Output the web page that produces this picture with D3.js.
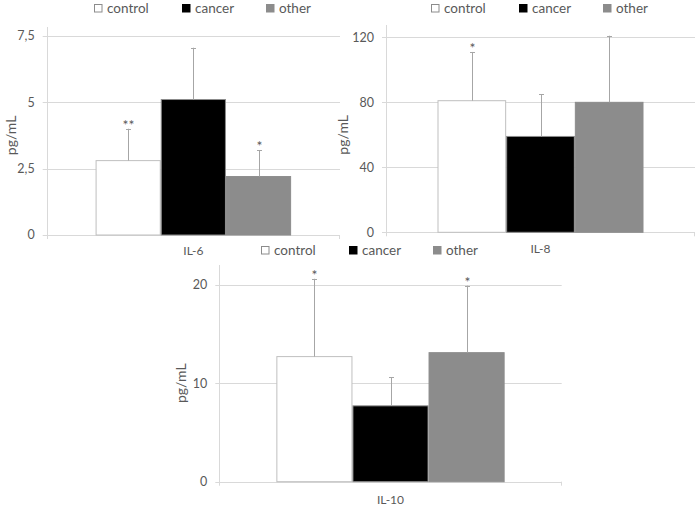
<!DOCTYPE html>
<html><head><meta charset="utf-8">
<script src="https://cdn.jsdelivr.net/npm/d3@7"></script>
<style>body{margin:0;background:#fff}svg{display:block}text{font-family:Lato,"Noto Sans",sans-serif;fill:#595959}</style>
</head><body><svg id="c" width="697" height="506"></svg>
<script>
// ---- data ----
const series = ["control", "cancer", "other"];
const panelNames = ["IL-6", "IL-8", "IL-10"];
const il6Means = [2.8, 5.1, 2.2];
const il6SD = [1.2, 1.95, 1.0];
const il6Stars = ["**", "", "*"];
const il6Ticks = [0, 2.5, 5, 7.5];
const il6TickLabels = ["0", "2,5", "5", "7,5"];
const il8Means = [81, 59, 80];
const il8SD = [30, 26, 41];
const il8Stars = ["*", "", ""];
const il8Ticks = [0, 40, 80, 120];
const il8TickLabels = ["0", "40", "80", "120"];
const il10Means = [12.7, 7.7, 13.1];
const il10SD = [7.9, 2.9, 6.8];
const il10Stars = ["*", "", "*"];
const il10Ticks = [0, 10, 20];
const il10TickLabels = ["0", "10", "20"];
const yTitle = "pg/mL";

// ---- layout (styling/geometry) ----
const layout = [
  {left: 46.7, right: 340, bottom: 235, axisTop: 27, yMax: 7.83, legendX: 94, legendY: 13, titleX: 16, catY: 255},
  {left: 386, right: 695, bottom: 232.3, axisTop: 25, yMax: 127.6, legendX: 431, legendY: 13, titleX: 348, catY: 253},
  {left: 219.3, right: 561.7, bottom: 481.7, axisTop: 265, yMax: 22, legendX: 261, legendY: 255, titleX: 186, catY: 504}
];
const fills = {control: "#ffffff", cancer: "#000000", other: "#8c8c8c"};
const strokes = {control: "#bfbfbf", cancer: "#8c8c8c", other: "#8c8c8c"};
const legendFills = {control: "#ffffff", cancer: "#000000", other: "#8c8c8c"};
const legendStrokes = {control: "#8c8c8c", cancer: "#000000", other: "#8c8c8c"};
const legendOffsets = [0, 88, 172];

const panelData = [
  {name: panelNames[0], means: il6Means, sd: il6SD, stars: il6Stars, ticks: il6Ticks, labels: il6TickLabels},
  {name: panelNames[1], means: il8Means, sd: il8SD, stars: il8Stars, ticks: il8Ticks, labels: il8TickLabels},
  {name: panelNames[2], means: il10Means, sd: il10SD, stars: il10Stars, ticks: il10Ticks, labels: il10TickLabels}
];

const svg = d3.select("#c");
const gridColor = "#d9d9d9";

panelData.forEach((p, i) => {
  const L = layout[i];
  const g = svg.append("g");
  const y = d3.scaleLinear().domain([0, L.yMax]).range([L.bottom, L.axisTop]);
  const x0 = d3.scaleBand().domain([p.name]).range([L.left, L.right]).paddingInner(0).paddingOuter(0.25);
  const x1 = d3.scaleBand().domain(series).range([0, x0.bandwidth()]).padding(0);

  // gridlines + y ticks
  g.selectAll(".grid").data(p.ticks).join("line")
    .attr("x1", L.left - 4).attr("x2", L.right)
    .attr("y1", d => Math.round(y(d)) + 0.5).attr("y2", d => Math.round(y(d)) + 0.5)
    .attr("stroke", gridColor).attr("stroke-width", 1);
  g.selectAll(".tl").data(p.ticks).join("text")
    .attr("x", L.left - 12).attr("y", d => y(d)).attr("dy", "0.35em")
    .attr("text-anchor", "end").attr("font-size", 12.5)
    .text((d, k) => p.labels[k]);
  // y axis line
  g.append("line").attr("x1", Math.round(L.left) + 0.5).attr("x2", Math.round(L.left) + 0.5)
    .attr("y1", L.axisTop).attr("y2", L.bottom + 4).attr("stroke", gridColor);
  // x end ticks
  g.append("line").attr("x1", Math.round(L.right) - 0.5).attr("x2", Math.round(L.right) - 0.5)
    .attr("y1", L.bottom).attr("y2", L.bottom + 4).attr("stroke", gridColor);

  // bars
  const bx = s => x0(p.name) + x1(s);
  g.selectAll(".bar").data(series).join("rect")
    .attr("x", s => bx(s) + 0.5)
    .attr("width", x1.bandwidth() - 1)
    .attr("y", (s, k) => y(p.means[k]))
    .attr("height", (s, k) => y(0) - y(p.means[k]))
    .attr("fill", s => fills[s]).attr("stroke", s => strokes[s]).attr("stroke-width", 1);

  // error bars
  const cx = s => Math.round(bx(s) + x1.bandwidth() / 2) + 0.5;
  const errColor = "#a6a6a6";
  g.selectAll(".err").data(series).join("line")
    .attr("x1", cx).attr("x2", cx)
    .attr("y1", (s, k) => y(p.means[k])).attr("y2", (s, k) => y(p.means[k] + p.sd[k]))
    .attr("stroke", errColor);
  g.selectAll(".cap").data(series).join("line")
    .attr("x1", s => cx(s) - 2.5).attr("x2", s => cx(s) + 2.5)
    .attr("y1", (s, k) => Math.round(y(p.means[k] + p.sd[k])) + 0.5)
    .attr("y2", (s, k) => Math.round(y(p.means[k] + p.sd[k])) + 0.5)
    .attr("stroke", errColor);
  // stars
  g.selectAll(".star").data(series).join("text")
    .attr("x", cx).attr("y", (s, k) => y(p.means[k] + p.sd[k]) + 1)
    .attr("text-anchor", "middle").attr("font-size", 14).attr("fill", "#6f6f6f")
    .text((s, k) => p.stars[k]);

  // category label
  g.append("text").attr("x", x0(p.name) + x0.bandwidth() / 2).attr("y", L.catY)
    .attr("text-anchor", "middle").attr("font-size", 12).text(p.name);

  // y title
  g.append("text").attr("transform", `translate(${L.titleX},${(L.bottom + y(p.ticks[p.ticks.length - 1])) / 2}) rotate(-90)`)
    .attr("text-anchor", "middle").attr("font-size", 14).text(yTitle);

  // legend
  const lg = g.selectAll(".lg").data(series).join("g")
    .attr("transform", (s, k) => `translate(${L.legendX + legendOffsets[k]},${L.legendY})`);
  lg.append("rect").attr("x", 0.5).attr("y", -8.5).attr("width", 7.5).attr("height", 7.5)
    .attr("fill", s => legendFills[s]).attr("stroke", s => legendStrokes[s]);
  lg.append("text").attr("x", 13).attr("y", 0).attr("font-size", 13.5).text(s => s);
});
</script></body></html>
